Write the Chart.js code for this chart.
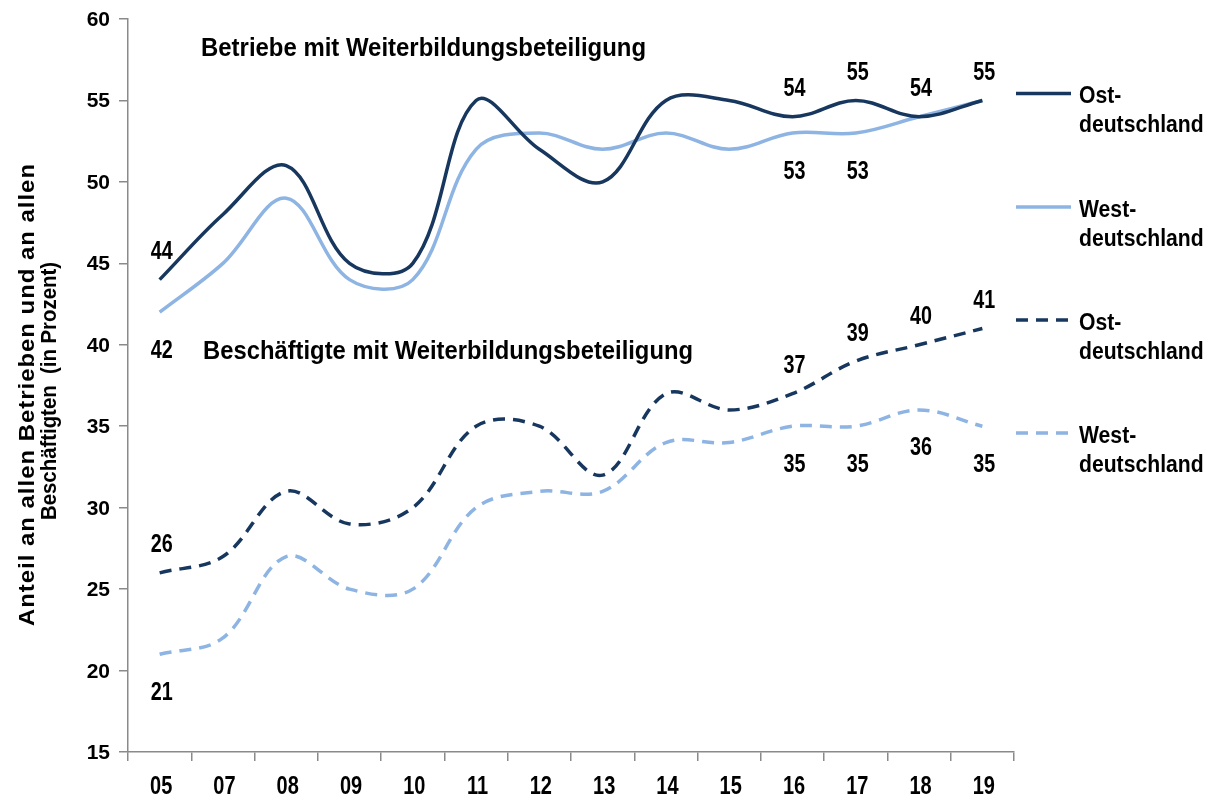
<!DOCTYPE html>
<html>
<head>
<meta charset="utf-8">
<script src="https://cdn.jsdelivr.net/npm/chart.js@4/dist/chart.umd.min.js"></script>
<style>
html,body{margin:0;padding:0;background:#fff;}
#wrap{width:1206px;height:798px;position:relative;}
</style>
</head>
<body>
<div id="wrap"><canvas id="c" width="1206" height="798"></canvas></div>
<script>
// ---- data ----
const categories = ['05','07','08','09','10','11','12','13','14','15','16','17','18','19'];
const betriebeOst  = [44,48,51,45,45,55,52,50,55,55,54,55,54,55];
const betriebeWest = [42,45,49,44,44,52,53,52,53,52,53,53,54,55];
const beschOst     = [26,27,31,29,30,35,35,32,37,36,37,39,40,41];
const beschWest    = [21,22,27,25,25,30,31,31,34,34,35,35,36,35];
const yTicks = [15,20,25,30,35,40,45,50,55,60];
const seriesNames = ['Ost-\ndeutschland','West-\ndeutschland','Ost-\ndeutschland','West-\ndeutschland'];
const titleBetriebe = 'Betriebe mit Weiterbildungsbeteiligung';
const titleBesch = 'Beschäftigte mit Weiterbildungsbeteiligung';
const yTitle = ['Anteil an allen Betrieben und an allen', 'Beschäftigten  (in Prozent)'];
// which points carry a value label
const labelIdx = [[0,10,11,12,13],[0,10,11],[0,10,11,12,13],[0,10,11,12,13]];

// ---- styles ----
const DARK = '#17375E';
const LIGHT = '#8DB4E2';
const AXIS = '#8A8A8A';
const FONT = '"Liberation Sans", Arial, Helvetica, sans-serif';
const labelSide = ['above','below','above','below'];

function txt(ctx, text, x, y, o) {
  o = o || {};
  const size = o.size || 20;
  ctx.save();
  ctx.font = 'bold ' + size + 'px ' + FONT;
  ctx.fillStyle = o.color || '#000';
  ctx.textAlign = o.align || 'left';
  ctx.textBaseline = 'alphabetic';
  let sx = o.sx || 1;
  if (o.width) {
    const w = ctx.measureText(text).width;
    sx = o.width / w;
  }
  ctx.translate(x, y);
  if (o.rotate) ctx.rotate(o.rotate);
  ctx.scale(sx, 1);
  ctx.fillText(text, 0, 0);
  ctx.restore();
}
function spacedText(ctx, text, x, y, size, target, rotate, spacingShare) {
  ctx.save();
  ctx.font = 'bold ' + size + 'px ' + FONT;
  ctx.fillStyle = '#000';
  ctx.textAlign = 'center';
  ctx.textBaseline = 'alphabetic';
  ctx.translate(x, y);
  ctx.rotate(rotate);
  const w0 = ctx.measureText(text).width;
  let sx = 1;
  if (target > w0 && 'letterSpacing' in ctx) {
    ctx.letterSpacing = (spacingShare * (target - w0) / text.length) + 'px';
    const w1 = ctx.measureText(text).width;
    sx = target / w1;
  } else {
    sx = target / w0;
  }
  ctx.scale(sx, 1);
  ctx.fillText(text, 0, 0);
  ctx.restore();
}

const decor = {
  id: 'decor',
  afterDraw(chart) {
    const ctx = chart.ctx;
    const xs = chart.scales.x, ys = chart.scales.y;
    // y tick labels
    ys.ticks.forEach((t, i) => {
      const py = ys.getPixelForTick(i);
      txt(ctx, String(t.value), 110, py + 7, {size: 20, align: 'right', sx: 1.05});
    });
    // x tick labels
    xs.ticks.forEach((t, i) => {
      const px = xs.getPixelForTick(i);
      txt(ctx, categories[i], px + 1.5, 794, {size: 25, sx: 0.8, align: 'center'});
    });
    // titles
    txt(ctx, titleBetriebe, 201, 56, {size: 26, width: 445});
    txt(ctx, titleBesch, 203, 359, {size: 26, width: 490});
    // y axis title
    spacedText(ctx, yTitle[0], 34, 394.5, 22, 463, -Math.PI / 2, 0.5);
    spacedText(ctx, yTitle[1], 56, 391, 22, 258, -Math.PI / 2, 0.5);
    // value labels
    chart.data.datasets.forEach((ds, di) => {
      const meta = chart.getDatasetMeta(di);
      labelIdx[di].forEach(i => {
        const p = meta.data[i];
        const cy = labelSide[di] === 'above' ? p.y - 29.5 : p.y + 36.5;
        txt(ctx, String(ds.data[i]), p.x + 2, cy + 9, {size: 25, sx: 0.79, align: 'center'});
      });
    });
    // legend
    const legY = [93.5, 207, 320, 433];
    chart.data.datasets.forEach((ds, di) => {
      const y = legY[di];
      ctx.save();
      ctx.strokeStyle = ds.borderColor;
      ctx.lineWidth = 3.5;
      ctx.setLineDash(ds.borderDash || []);
      ctx.beginPath();
      ctx.moveTo(1016, y);
      ctx.lineTo(1071, y);
      ctx.stroke();
      ctx.restore();
      const lines = seriesNames[di].split('\n');
      txt(ctx, lines[0], 1079, y + 9.5, {size: 23, sx: 0.92});
      txt(ctx, lines[1], 1079, y + 38.5, {size: 23, sx: 0.92});
    });
  }
};

new Chart(document.getElementById('c'), {
  type: 'line',
  data: {
    labels: categories,
    datasets: [
      {label: 'Betriebe Ost', data: betriebeOst, borderColor: DARK, borderWidth: 3.5},
      {label: 'Betriebe West', data: betriebeWest, borderColor: LIGHT, borderWidth: 3.5},
      {label: 'Beschäftigte Ost', data: beschOst, borderColor: DARK, borderWidth: 3.5, borderDash: [12, 8]},
      {label: 'Beschäftigte West', data: beschWest, borderColor: LIGHT, borderWidth: 3.5, borderDash: [12, 8]}
    ]
  },
  options: {
    responsive: false,
    devicePixelRatio: 1,
    animation: false,
    layout: {padding: {left: 119, right: 192, top: 19, bottom: 37}},
    elements: {
      point: {radius: 0, hoverRadius: 0},
      line: {tension: 0.36, fill: false, borderCapStyle: 'butt'}
    },
    plugins: {legend: {display: false}, tooltip: {enabled: false}, title: {display: false}},
    scales: {
      x: {
        type: 'category',
        offset: true,
        ticks: {display: false},
        grid: {display: true, offset: true, drawOnChartArea: false, drawTicks: true, tickLength: 9, color: AXIS, lineWidth: 1.5},
        border: {display: true, color: AXIS, width: 1.5}
      },
      y: {
        min: 15, max: 60,
        afterBuildTicks: (s) => { s.ticks = yTicks.map(v => ({value: v})); },
        ticks: {display: false},
        grid: {display: true, drawOnChartArea: false, drawTicks: true, tickLength: 9, color: AXIS, lineWidth: 1.5},
        border: {display: true, color: AXIS, width: 1.5}
      }
    }
  },
  plugins: [decor]
});
</script>
</body>
</html>
